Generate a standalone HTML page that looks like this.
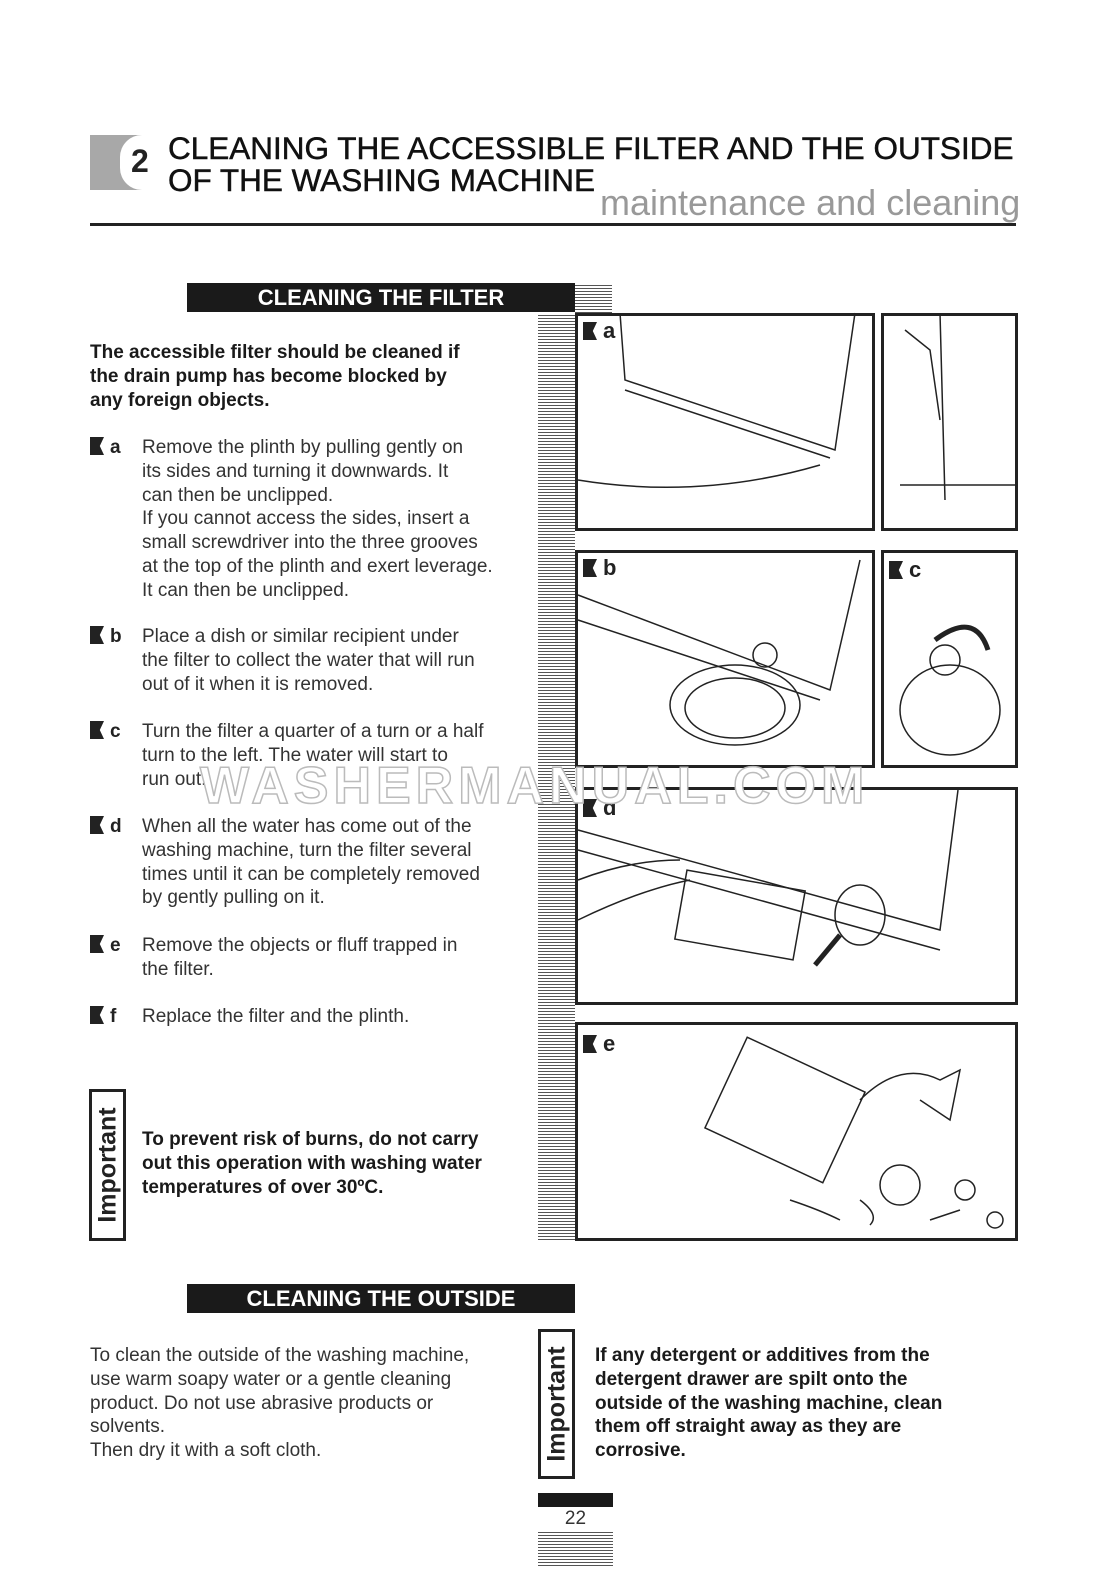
<!DOCTYPE html>
<html><head><style>
body{margin:0;background:#fff;font-family:"Liberation Sans",Arial,sans-serif;color:#222;}
.p{position:absolute;}
.t{position:absolute;font-size:19px;line-height:23.8px;color:#333;}
.b{font-weight:bold;color:#1a1a1a;}
.bar{position:absolute;background:#1a1a1a;color:#fff;font-weight:bold;font-size:22px;text-align:center;}
.stripe{position:absolute;background:repeating-linear-gradient(#fff 0,#fff 2px,#555 2px,#555 3px);}
.box{position:absolute;border:3px solid #222;box-sizing:border-box;background:#fff;}
.mk{position:absolute;font-weight:bold;font-size:19px;}
.mk i{display:inline-block;width:14px;height:18px;background:#222;clip-path:polygon(0 0,100% 0,70% 50%,100% 100%,0 100%);vertical-align:-2px;margin-right:6px;}
.imp{position:absolute;border:3px solid #222;box-sizing:border-box;}
.imp span{position:absolute;left:50%;top:50%;transform:translate(-50%,-50%) rotate(-90deg);font-weight:bold;font-size:25px;white-space:nowrap;}
</style></head><body>
<div class="p" style="left:90px;top:135px;width:60px;height:55px;background:#a8a8a8;"></div>
<div class="p" style="left:120px;top:135px;width:40px;height:55px;background:#fff;border-radius:22px 0 0 22px;"></div>
<div class="p" style="left:131px;top:143px;font-size:32px;font-weight:bold;">2</div>
<div class="p" style="left:168px;top:132px;font-size:31.5px;line-height:32px;color:#111;-webkit-text-stroke:0.5px #111;">CLEANING THE ACCESSIBLE FILTER AND THE OUTSIDE<br>OF THE WASHING MACHINE</div>
<div class="p" style="left:600px;top:182px;font-size:36px;color:#999;">maintenance and cleaning</div>
<div class="p" style="left:90px;top:223px;width:926px;height:3px;background:#222;"></div>

<div class="bar" style="left:187px;top:283px;width:388px;height:29px;line-height:29px;">CLEANING THE FILTER</div>
<div class="stripe" style="left:575px;top:283px;width:37px;height:30px;"></div>
<div class="stripe" style="left:538px;top:313px;width:37px;height:928px;"></div>

<div class="t b" style="left:90px;top:341px;">The accessible filter should be cleaned if<br>the drain pump has become blocked by<br>any foreign objects.</div>
<div class="mk" style="left:90px;top:437px;"><i></i>a</div>
<div class="t" style="left:142px;top:436px;">Remove the plinth by pulling gently on<br>its sides and turning it downwards. It<br>can then be unclipped.<br>If you cannot access the sides, insert a<br>small screwdriver into the three grooves<br>at the top of the plinth and exert leverage.<br>It can then be unclipped.</div>
<div class="mk" style="left:90px;top:626px;"><i></i>b</div>
<div class="t" style="left:142px;top:625px;">Place a dish or similar recipient under<br>the filter to collect the water that will run<br>out of it when it is removed.</div>
<div class="mk" style="left:90px;top:721px;"><i></i>c</div>
<div class="t" style="left:142px;top:720px;">Turn the filter a quarter of a turn or a half<br>turn to the left. The water will start to<br>run out.</div>
<div class="mk" style="left:90px;top:816px;"><i></i>d</div>
<div class="t" style="left:142px;top:815px;">When all the water has come out of the<br>washing machine, turn the filter several<br>times until it can be completely removed<br>by gently pulling on it.</div>
<div class="mk" style="left:90px;top:935px;"><i></i>e</div>
<div class="t" style="left:142px;top:934px;">Remove the objects or fluff trapped in<br>the filter.</div>
<div class="mk" style="left:90px;top:1006px;"><i></i>f</div>
<div class="t" style="left:142px;top:1005px;">Replace the filter and the plinth.</div>

<div class="imp" style="left:89px;top:1089px;width:37px;height:152px;"><span>Important</span></div>
<div class="t b" style="left:142px;top:1128px;">To prevent risk of burns, do not carry<br>out this operation with washing water<br>temperatures of over 30ºC.</div>

<div class="box" style="left:575px;top:313px;width:300px;height:218px;"></div>
<div class="box" style="left:881px;top:313px;width:137px;height:218px;"></div>
<div class="box" style="left:575px;top:550px;width:300px;height:218px;"></div>
<div class="box" style="left:881px;top:550px;width:137px;height:218px;"></div>
<div class="box" style="left:575px;top:787px;width:443px;height:218px;"></div>
<div class="box" style="left:575px;top:1022px;width:443px;height:219px;"></div>
<svg class="p" style="left:0;top:0" width="1118" height="1587" fill="none" stroke="#222" stroke-width="1.5">
<path d="M620 313 L625 380 L835 450 L855 313 M625 390 L830 458 M578 480 Q700 500 820 465"/>
<path d="M940 313 L945 500 M905 330 L930 350 L940 420 M900 485 L1015 485"/>
<path d="M578 595 L830 690 L860 560 M578 620 L820 700"/>
<ellipse cx="735" cy="705" rx="65" ry="40"/><ellipse cx="735" cy="708" rx="50" ry="30"/>
<circle cx="765" cy="655" r="12"/>
<ellipse cx="950" cy="710" rx="50" ry="45"/><circle cx="945" cy="660" r="15"/>
<path d="M935 640 Q975 610 988 650" stroke-width="5"/>
<path d="M578 830 L940 930 L958 790 M578 850 L940 950"/>
<rect x="680" y="880" width="120" height="70" transform="rotate(10 740 915)"/>
<ellipse cx="860" cy="915" rx="25" ry="30"/>
<path d="M840 935 L815 965" stroke-width="5"/>
<path d="M578 920 Q640 890 690 880 M578 880 Q630 860 680 860"/>
<rect x="720" y="1060" width="130" height="100" transform="rotate(25 785 1110)"/>
<path d="M860 1100 Q900 1060 940 1080 L960 1070 L950 1120 L920 1100"/>
<circle cx="900" cy="1185" r="20"/><circle cx="965" cy="1190" r="10"/><circle cx="995" cy="1220" r="8"/>
<path d="M790 1200 Q820 1210 840 1220 M860 1200 Q880 1215 870 1225 M930 1220 L960 1210"/>
</svg>
<div class="mk" style="left:583px;top:318px;font-size:22px"><i></i>a</div>
<div class="mk" style="left:583px;top:555px;font-size:22px"><i></i>b</div>
<div class="mk" style="left:889px;top:557px;font-size:22px"><i></i>c</div>
<div class="mk" style="left:583px;top:795px;font-size:22px"><i></i>d</div>
<div class="mk" style="left:583px;top:1031px;font-size:22px"><i></i>e</div>
<div class="p" style="left:200px;top:756px;font-size:52px;font-weight:bold;color:#fff;-webkit-text-stroke:1.5px #bbb;letter-spacing:5px;">WASHERMANUAL.COM</div>

<div class="bar" style="left:187px;top:1284px;width:388px;height:29px;line-height:29px;">CLEANING THE OUTSIDE</div>
<div class="t" style="left:90px;top:1344px;">To clean the outside of the washing machine,<br>use warm soapy water or a gentle cleaning<br>product. Do not use abrasive products or<br>solvents.<br>Then dry it with a soft cloth.</div>
<div class="imp" style="left:538px;top:1329px;width:37px;height:150px;"><span>Important</span></div>
<div class="t b" style="left:595px;top:1344px;">If any detergent or additives from the<br>detergent drawer are spilt onto the<br>outside of the washing machine, clean<br>them off straight away as they are<br>corrosive.</div>

<div class="p" style="left:538px;top:1493px;width:75px;height:14px;background:#1a1a1a;"></div>
<div class="p" style="left:538px;top:1508px;width:75px;text-align:center;font-size:19px;color:#333;">22</div>
<div class="stripe" style="left:538px;top:1530px;width:75px;height:36px;"></div>
</body></html>
